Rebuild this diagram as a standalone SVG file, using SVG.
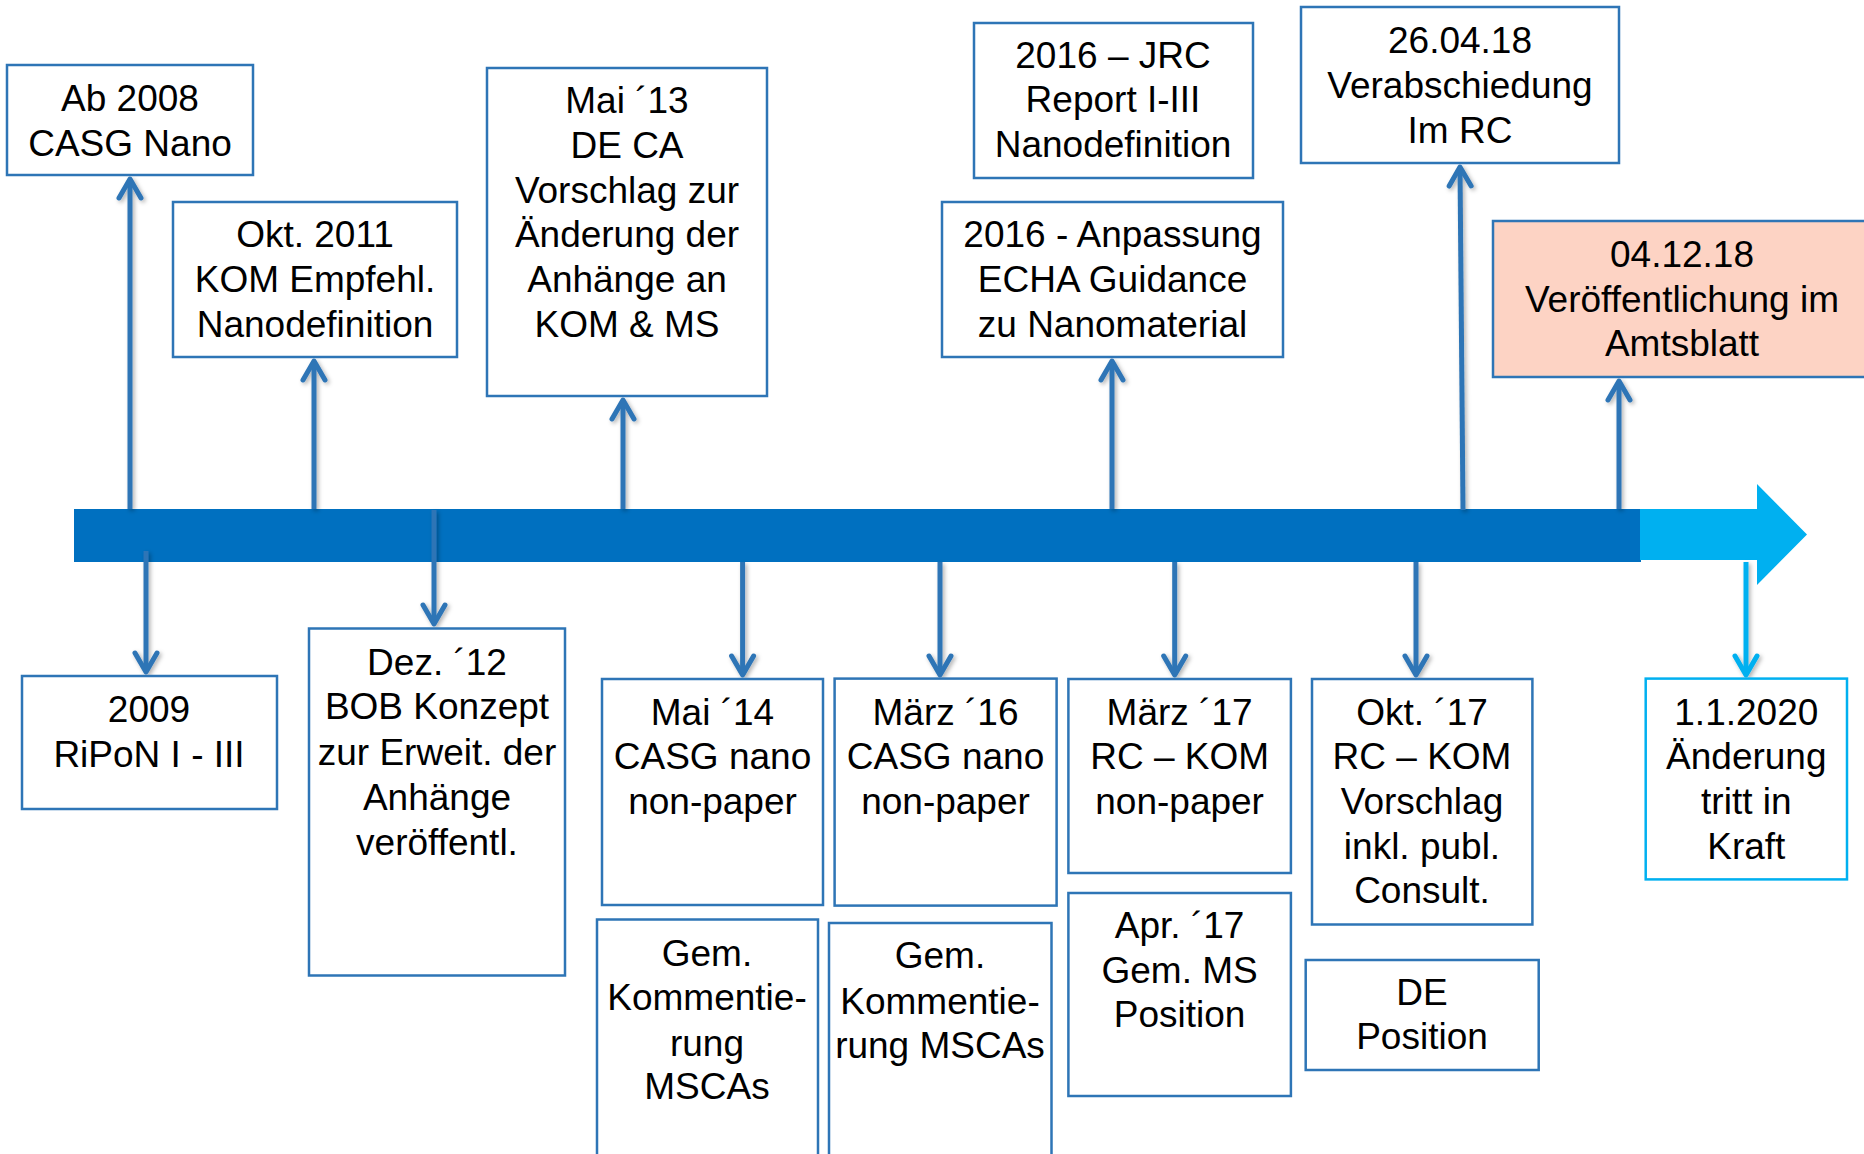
<svg xmlns="http://www.w3.org/2000/svg" width="1864" height="1154" viewBox="0 0 1864 1154">
<style>
.box{fill:#ffffff;stroke:#2E75B6;stroke-width:2.5}
.peach{fill:#FDD3C4;stroke:#2E75B6;stroke-width:2.5}
.light{fill:#ffffff;stroke:#00B0F0;stroke-width:2.5}
text{font-family:"Liberation Sans",Arial,sans-serif;font-size:37px;fill:#000000;text-anchor:middle}
.con{stroke:#2E75B6;stroke-width:5;fill:none;marker-end:url(#hd)}
.conl{stroke:#00B0F0;stroke-width:5;fill:none;marker-end:url(#hl)}
</style>
<defs>
<filter id="sh" x="-50%" y="-10%" width="200%" height="120%">
<feDropShadow dx="2" dy="2" stdDeviation="2" flood-color="#000" flood-opacity="0.3"/>
</filter>
<marker id="hd" markerUnits="userSpaceOnUse" viewBox="-24 -16 28 32" refX="0" refY="0" markerWidth="28" markerHeight="32" orient="auto" overflow="visible">
<path d="M -19 -11 L 0 0 L -19 11" fill="none" stroke="#2E75B6" stroke-width="5" stroke-linecap="round" stroke-linejoin="round"/>
</marker>
<marker id="hl" markerUnits="userSpaceOnUse" viewBox="-24 -16 28 32" refX="0" refY="0" markerWidth="28" markerHeight="32" orient="auto" overflow="visible">
<path d="M -19 -11 L 0 0 L -19 11" fill="none" stroke="#00B0F0" stroke-width="5" stroke-linecap="round" stroke-linejoin="round"/>
</marker>
</defs>
<rect width="1864" height="1154" fill="#ffffff"/>
<g id="timeline">
<rect x="74" y="509" width="1567" height="53" fill="#0070C0"/>
<path d="M1640 509 L1757 509 L1757 484 L1807 534.5 L1757 585 L1757 560 L1640 560 Z" fill="#00B0F0"/>
</g>
<g id="connectors" filter="url(#sh)">
<line class="con" x1="130" y1="509" x2="130" y2="179"/>
<line class="con" x1="314" y1="509" x2="314" y2="361"/>
<line class="con" x1="623" y1="509" x2="623" y2="400"/>
<line class="con" x1="1112" y1="509" x2="1112" y2="361"/>
<line class="con" x1="1463" y1="510" x2="1460" y2="167"/>
<line class="con" x1="1619" y1="509" x2="1619" y2="381"/>
<line class="con" x1="146" y1="551" x2="146" y2="672"/>
<line class="con" x1="434" y1="510" x2="434" y2="624"/>
<line class="con" x1="742.6" y1="562" x2="742.6" y2="675"/>
<line class="con" x1="940" y1="562" x2="940" y2="675"/>
<line class="con" x1="1174.7" y1="562" x2="1174.7" y2="675"/>
<line class="con" x1="1416" y1="562" x2="1416" y2="675"/>
<line class="conl" x1="1746" y1="562" x2="1746" y2="675"/>
</g>
<g id="n1"><rect class="box" x="7" y="65" width="246" height="110"/><text x="130" y="111">Ab 2008</text><text x="130" y="156">CASG Nano</text></g>
<g id="n2"><rect class="box" x="173" y="202" width="284" height="155"/><text x="315" y="247">Okt. 2011</text><text x="315" y="292">KOM Empfehl.</text><text x="315" y="337">Nanodefinition</text></g>
<g id="n3"><rect class="box" x="487" y="68" width="280" height="328"/><text x="627" y="113">Mai ´13</text><text x="627" y="158">DE CA</text><text x="627" y="203">Vorschlag zur</text><text x="627" y="247">Änderung der</text><text x="627" y="292">Anhänge an</text><text x="627" y="337">KOM &amp; MS</text></g>
<g id="n4"><rect class="box" x="974" y="23" width="279" height="155"/><text x="1113" y="68">2016 – JRC</text><text x="1113" y="112">Report I-III</text><text x="1113" y="157">Nanodefinition</text></g>
<g id="n5"><rect class="box" x="1301" y="7" width="318" height="156"/><text x="1460" y="53">26.04.18</text><text x="1460" y="98">Verabschiedung</text><text x="1460" y="143">Im RC</text></g>
<g id="n6"><rect class="box" x="942" y="202" width="341" height="155"/><text x="1112.5" y="247">2016 - Anpassung</text><text x="1112.5" y="292">ECHA Guidance</text><text x="1112.5" y="337">zu Nanomaterial</text></g>
<g id="n7"><rect class="peach" x="1493" y="221" width="380" height="156"/><text x="1682" y="267">04.12.18</text><text x="1682" y="312">Veröffentlichung im</text><text x="1682" y="356">Amtsblatt</text></g>
<g id="n8"><rect class="box" x="22" y="676" width="255" height="133"/><text x="149" y="722">2009</text><text x="149" y="767">RiPoN I - III</text></g>
<g id="n9"><rect class="box" x="309" y="628.5" width="256" height="347"/><text x="437" y="674.5">Dez. ´12</text><text x="437" y="719">BOB Konzept</text><text x="437" y="765">zur Erweit. der</text><text x="437" y="810">Anhänge</text><text x="437" y="854.5">veröffentl.</text></g>
<g id="n10"><rect class="box" x="602" y="679" width="221" height="226"/><text x="712.5" y="724.6">Mai ´14</text><text x="712.5" y="769">CASG nano</text><text x="712.5" y="814">non-paper</text></g>
<g id="n11"><rect class="box" x="597" y="919.5" width="221" height="260"/><text x="707" y="966">Gem.</text><text x="707" y="1010">Kommentie-</text><text x="707" y="1055.7">rung</text><text x="707" y="1099">MSCAs</text></g>
<g id="n12"><rect class="box" x="834.6" y="678.6" width="222" height="227"/><text x="945.5" y="724.6">März ´16</text><text x="945.5" y="769">CASG nano</text><text x="945.5" y="814">non-paper</text></g>
<g id="n13"><rect class="box" x="829" y="923" width="222.5" height="260"/><text x="940" y="968">Gem.</text><text x="940" y="1013.8">Kommentie-</text><text x="940" y="1058">rung MSCAs</text></g>
<g id="n14"><rect class="box" x="1068.4" y="679" width="222.5" height="194"/><text x="1179.6" y="724.6">März ´17</text><text x="1179.6" y="769">RC – KOM</text><text x="1179.6" y="814">non-paper</text></g>
<g id="n15"><rect class="box" x="1068.4" y="893" width="222.5" height="203"/><text x="1179.6" y="937.7">Apr. ´17</text><text x="1179.6" y="983.3">Gem. MS</text><text x="1179.6" y="1027.4">Position</text></g>
<g id="n16"><rect class="box" x="1312" y="679" width="220.4" height="245.5"/><text x="1422" y="724.6">Okt. ´17</text><text x="1422" y="769">RC – KOM</text><text x="1422" y="814">Vorschlag</text><text x="1422" y="858.5">inkl. publ.</text><text x="1422" y="903">Consult.</text></g>
<g id="n17"><rect class="box" x="1305.7" y="960" width="233" height="110"/><text x="1422" y="1004.7">DE</text><text x="1422" y="1049.3">Position</text></g>
<g id="n18"><rect class="light" x="1645.7" y="678.6" width="201.3" height="200.8"/><text x="1746.3" y="724.6">1.1.2020</text><text x="1746.3" y="769">Änderung</text><text x="1746.3" y="814">tritt in</text><text x="1746.3" y="858.5">Kraft</text></g>
</svg>
